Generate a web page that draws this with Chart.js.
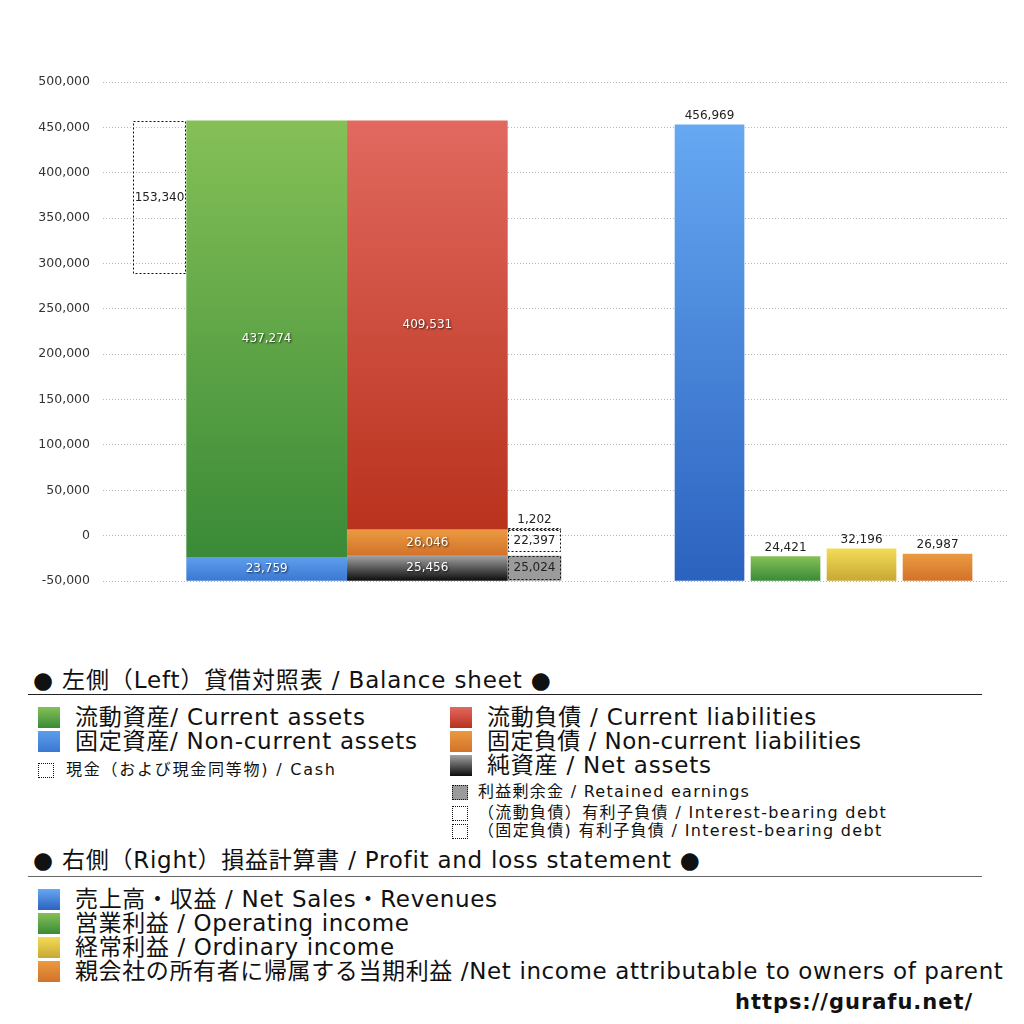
<!DOCTYPE html>
<html>
<head>
<meta charset="utf-8">
<script src="https://cdn.jsdelivr.net/npm/chart.js@4/dist/chart.umd.min.js"></script>
<style>
  body { margin: 0; background: #fff; width: 1024px; height: 1024px; position: relative; overflow: hidden;
         font-family: "DejaVu Sans", "Noto Sans CJK JP", sans-serif; color: #111; }
  #wrap { position: absolute; left: 0; top: 0; width: 1024px; height: 640px; }
  .t { position: absolute; white-space: nowrap; line-height: 28px; }
  .sw { position: absolute; width: 22px; height: 21px; }
  .dot { position: absolute; width: 14px; height: 13px; border: 1px dotted #111; }
  .rule { position: absolute; left: 28px; width: 954px; height: 0; border-top: 1px solid #222; }
</style>
</head>
<body>
<div id="wrap"><canvas id="chart" width="1024" height="640"></canvas></div>
<div id="legend"></div>
<script>
// y axis: the picture labels 12 evenly spaced lines, bars are measured on 0..500,000
const yTickLabels = ['-50,000', '0', '50,000', '100,000', '150,000', '200,000',
  '250,000', '300,000', '350,000', '400,000', '450,000', '500,000'];
const yAxisTop = 500000;

// balance sheet (left)
const assetNames = ['固定資産/ Non-current assets', '流動資産/ Current assets'];
const assetValues = [23759, 437274];
const cashNames = ['現金（および現金同等物) / Cash'];
const cashValues = [153340];
const liabilityNames = ['純資産 / Net assets', '固定負債 / Non-current liabilities', '流動負債 /  Current liabilities'];
const liabilityValues = [25456, 26046, 409531];
const debtNames = ['利益剰余金 / Retained earnings', '（固定負債) 有利子負債 / Interest-bearing debt', '（流動負債）有利子負債 / Interest-bearing debt'];
const debtValues = [25024, 22397, 1202];

// profit and loss (right)
const plNames = ['売上高・収益 / Net Sales・Revenues', '営業利益 / Operating income', '経常利益 / Ordinary income',
  '親会社の所有者に帰属する当期利益 /Net income attributable to owners of parent'];
const plValues = [456969, 24421, 32196, 26987];

// colours (top, bottom of each gradient)
const green = ['#85c057', '#3a8a37'];
const blue = ['#66a8f2', '#2b62bf'];
const lightBlue = ['#5d9ded', '#3b78d2'];
const red = ['#e1695f', '#b9321d'];
const orange = ['#eb9a40', '#d2722a'];
const black = ['#a3a3a3', '#0c0c0c'];
const yellow = ['#f2dc55', '#c9a737'];
const plColors = [blue, green, yellow, orange];

// stack values upward from a starting value, giving [low, high] pairs
function stackRanges(values, start) {
  let acc = start;
  return values.map(v => { const r = [acc, acc + v]; acc += v; return r; });
}

const assetRanges = stackRanges(assetValues, 0);
const totalAssets = assetRanges[assetRanges.length - 1][1];
const liabilityRanges = stackRanges(liabilityValues, 0);
const nonCurrentTop = liabilityRanges[1][1];
const cashRange = [totalAssets - cashValues[0], totalAssets];
const debtRanges = [
  [0, debtValues[0]],
  [nonCurrentTop - debtValues[1], nonCurrentTop],
  [nonCurrentTop, nonCurrentTop + debtValues[2]]
];

// vertical gradient over the bar itself
function vGrad(pair) {
  return (ctx) => {
    const chart = ctx.chart;
    const pal = typeof pair === 'function' ? pair(ctx) : pair;
    if (!chart.chartArea || !ctx.raw) return pal[0];
    const ys = chart.scales.y;
    const top = ys.getPixelForValue(ctx.raw.y[1]);
    const bottom = ys.getPixelForValue(ctx.raw.y[0]);
    if (!isFinite(top) || !isFinite(bottom) || top === bottom) return pal[0];
    const g = chart.ctx.createLinearGradient(0, top, 0, bottom);
    g.addColorStop(0, pal[0]);
    g.addColorStop(1, pal[1]);
    return g;
  };
}

function leftBar(slot, range, value, name, color, extra) {
  return Object.assign({
    label: name,
    xAxisID: 'xL',
    data: [{ x: slot, y: range }],
    values: [value],
    backgroundColor: vGrad(color),
    barThickness: 160,
    labelMode: 'light'
  }, extra || {});
}

const clear = 'rgba(255,255,255,0)';
const datasets = [
  leftBar(0, cashRange, cashValues[0], cashNames[0], null,
    { backgroundColor: clear, barThickness: 53, dotted: true, labelMode: 'dark' }),
  leftBar(2, assetRanges[0], assetValues[0], assetNames[0], lightBlue),
  leftBar(2, assetRanges[1], assetValues[1], assetNames[1], green),
  leftBar(5, liabilityRanges[0], liabilityValues[0], liabilityNames[0], black),
  leftBar(5, liabilityRanges[1], liabilityValues[1], liabilityNames[1], orange),
  leftBar(5, liabilityRanges[2], liabilityValues[2], liabilityNames[2], red),
  leftBar(7, debtRanges[0], debtValues[0], debtNames[0], null,
    { backgroundColor: '#9b9b9b', barThickness: 53, dotted: true, labelMode: 'dark' }),
  leftBar(7, debtRanges[1], debtValues[1], debtNames[1], null,
    { backgroundColor: clear, barThickness: 53, dotted: true, labelMode: 'dark' }),
  leftBar(7, debtRanges[2], debtValues[2], debtNames[2], null,
    { backgroundColor: clear, barThickness: 53, dotted: true, labelMode: 'above' }),
  {
    label: 'P/L',
    xAxisID: 'xR',
    data: plValues.map((v, i) => ({ x: i, y: [0, v] })),
    values: plValues,
    backgroundColor: vGrad(ctx => plColors[ctx.dataIndex] || blue),
    barThickness: 69,
    labelMode: 'above'
  }
];

// dotted outline for the "box" bars
const dottedBoxes = {
  id: 'dottedBoxes',
  afterDatasetsDraw(chart) {
    const c = chart.ctx;
    chart.data.datasets.forEach((ds, i) => {
      if (!ds.dotted) return;
      chart.getDatasetMeta(i).data.forEach(bar => {
        const { x, y, base, width } = bar.getProps(['x', 'y', 'base', 'width'], true);
        const left = Math.round(x - width / 2) + 0.5;
        const top = Math.round(y) + 0.5;
        c.save();
        c.setLineDash([2, 2]);
        c.strokeStyle = '#111';
        c.lineWidth = 1;
        c.strokeRect(left, top, Math.round(width) - 1, Math.max(1, Math.round(base - y) - 1));
        c.restore();
      });
    });
  }
};

// value text on / above each bar
const barLabels = {
  id: 'barLabels',
  afterDatasetsDraw(chart) {
    const c = chart.ctx;
    chart.data.datasets.forEach((ds, i) => {
      chart.getDatasetMeta(i).data.forEach((bar, j) => {
        const { x, y, base } = bar.getProps(['x', 'y', 'base'], true);
        const text = ds.values[j].toLocaleString('en-US');
        c.save();
        c.font = '12px "DejaVu Sans", sans-serif';
        c.textAlign = 'center';
        c.textBaseline = 'middle';
        if (ds.labelMode === 'light') {
          c.fillStyle = '#fff';
          c.shadowColor = 'rgba(0,0,0,0.75)';
          c.shadowBlur = 2;
          c.shadowOffsetX = 1;
          c.shadowOffsetY = 1;
          c.fillText(text, x, (y + base) / 2);
        } else if (ds.labelMode === 'dark') {
          c.fillStyle = '#222';
          c.fillText(text, x, (y + base) / 2);
        } else {
          c.fillStyle = '#222';
          c.fillText(text, x, y - 9);
        }
        c.restore();
      });
    });
  }
};

new Chart(document.getElementById('chart'), {
  type: 'bar',
  data: { datasets },
  options: {
    responsive: false,
    animation: false,
    layout: { padding: { top: 82, right: 17, bottom: 59, left: 0 } },
    plugins: { legend: { display: false }, tooltip: { enabled: false } },
    datasets: { bar: { grouped: false, borderWidth: 0 } },
    scales: {
      y: {
        min: 0,
        max: yAxisTop,
        afterBuildTicks: (scale) => {
          scale.ticks = yTickLabels.map((_, i) => ({ value: i * yAxisTop / (yTickLabels.length - 1) }));
        },
        afterFit: (scale) => { scale.width = 103; },
        ticks: {
          padding: 13,
          color: '#333',
          font: { family: 'DejaVu Sans', size: 12.5 },
          callback: (v, i) => yTickLabels[i]
        },
        grid: { color: '#b8b8b8', drawTicks: false },
        border: { display: false, dash: [1, 2] }
      },
      // hidden horizontal axes, only used to place the two groups of bars
      xL: { type: 'linear', display: false, offset: false, min: -1.055, max: 15.82, bounds: 'data' },
      xR: { type: 'linear', display: false, offset: false, min: -7.98, max: 3.914, bounds: 'data' }
    }
  },
  plugins: [dottedBoxes, barLabels]
});

// ---- legend (plain HTML text below the chart) ----
const legend = document.getElementById('legend');
const fitList = [];
function add(html) { legend.insertAdjacentHTML('beforeend', html); return legend.lastElementChild; }
function text(x, cy, size, str, width, extra) {
  const el = add(`<div class="t" style="left:${x}px;top:${cy - 14}px;font-size:${size}px;${extra || ''}">${str}</div>`);
  fitList.push([el, width]);
}
function grad(pair) { return `background:linear-gradient(${pair[0]}, ${pair[1]});`; }
function bigRow(x, cy, pair, str, width) {
  add(`<div class="sw" style="left:${x}px;top:${cy - 10}px;${grad(pair)}"></div>`);
  text(x + 37, cy, 23, str, width);
}
function smallRow(x, cy, fill, str, tx, width) {
  add(`<div class="dot" style="left:${x}px;top:${cy - 7}px;background:${fill};"></div>`);
  text(tx, cy, 16, str, width);
}

// stretch each legend line to the width it has in the picture
function fitText() {
  fitList.forEach(([el, width]) => {
    el.style.letterSpacing = '0px';
    const natural = el.getBoundingClientRect().width;
    const n = Math.max(1, el.textContent.length - 1);
    el.style.letterSpacing = ((width - natural) / n).toFixed(2) + 'px';
  });
}

text(33, 680, 23, '● 左側（Left）貸借対照表 / Balance sheet ●', 518);
add('<div class="rule" style="top:694px;"></div>');
bigRow(38, 717, green, assetNames[1], 290);
bigRow(38, 741, lightBlue, assetNames[0], 342);
smallRow(38, 770, 'transparent', cashNames[0], 66, 269);
bigRow(450, 717, red, liabilityNames[2], 330);
bigRow(450, 741, orange, liabilityNames[1], 374);
bigRow(450, 765, black, liabilityNames[0], 224);
smallRow(452, 792, '#9b9b9b', debtNames[0], 478, 271);
smallRow(452, 813, 'transparent', debtNames[2], 478, 408);
smallRow(452, 831, 'transparent', debtNames[1], 478, 403);

text(33, 860, 23, '● 右側（Right）損益計算書 / Profit and loss statement ●', 667);
add('<div class="rule" style="top:876px;border-top-color:#666;"></div>');
const plWidths = [422, 334, 319, 928];
plNames.forEach((name, i) => bigRow(38, 899 + i * 24, plColors[i], name, plWidths[i]));

text(735, 1002, 21, 'https://gurafu.net/', 237, 'font-weight:bold;');

fitText();
if (document.fonts && document.fonts.ready) document.fonts.ready.then(fitText);
</script>
</body>
</html>
